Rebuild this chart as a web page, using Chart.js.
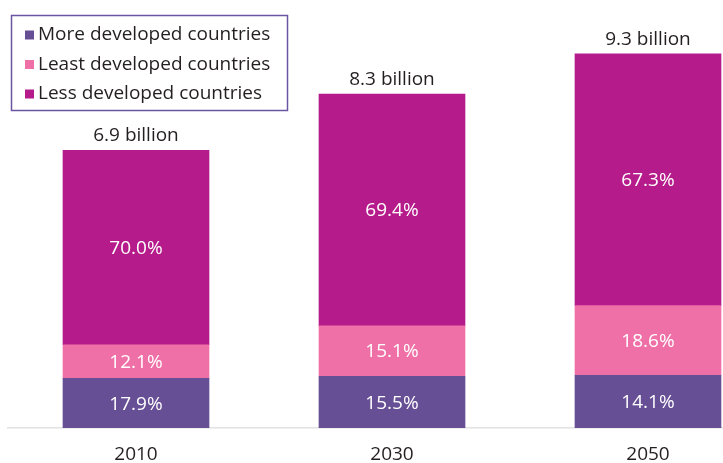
<!DOCTYPE html>
<html>
<head>
<meta charset="utf-8">
<script src="https://cdn.jsdelivr.net/npm/chart.js@4.4.1/dist/chart.umd.min.js"></script>
<style>
    html, body { margin: 0; padding: 0; background: #fff; }
    #wrap { width: 723px; height: 463px; position: relative; }
</style>
</head>
<body>
<div id="wrap"><canvas id="popChart"></canvas></div>
<script>
// Chart data
const years = [2010, 2030, 2050];
const totals = [6.9, 8.3, 9.3]; // billion
const seriesNames = ['More developed countries', 'Least developed countries', 'Less developed countries'];
const moreDeveloped = [17.9, 15.5, 14.1];
const leastDeveloped = [12.1, 15.1, 18.6];
const lessDeveloped = [70.0, 69.4, 67.3];
const colors = ['#674f96', '#ef70a6', '#b51b8a'];

const FONT = '"Open Sans", "Noto Sans", sans-serif';

// share (%) of the year's total -> billions, so bar heights follow the totals
function toPoints(shares) {
    return years.map((y, i) => ({ x: y, y: totals[i] * shares[i] / 100, pct: shares[i] }));
}

// Draw percentages inside segments and totals above bars
const labelPlugin = {
    id: 'segmentLabels',
    afterDatasetsDraw(chart) {
        const ctx = chart.ctx;
        ctx.save();
        ctx.font = '19px ' + FONT;
        ctx.textAlign = 'center';
        ctx.textBaseline = 'middle';
        ctx.fillStyle = '#ffffff';
        chart.data.datasets.forEach((ds, di) => {
            const meta = chart.getDatasetMeta(di);
            meta.data.forEach((bar, i) => {
                const mid = (bar.y + bar.base) / 2;
                ctx.fillText(ds.data[i].pct.toFixed(1) + '%', bar.x, mid + 1);
            });
        });
        // totals
        const topMeta = chart.getDatasetMeta(chart.data.datasets.length - 1);
        ctx.fillStyle = '#231f20';
        ctx.textBaseline = 'bottom';
        topMeta.data.forEach((bar, i) => {
            ctx.fillText(totals[i].toFixed(1) + ' billion', bar.x, bar.y - 5);
        });
        ctx.restore();
    }
};

// Boxed legend in the top-left corner
const legendBoxPlugin = {
    id: 'legendBox',
    afterDraw(chart) {
        const ctx = chart.ctx;
        ctx.save();
        ctx.strokeStyle = '#6a56a0';
        ctx.lineWidth = 1.5;
        ctx.strokeRect(11.5, 15.5, 276, 95);
        ctx.font = '19px ' + FONT;
        ctx.textAlign = 'left';
        ctx.textBaseline = 'middle';
        chart.data.datasets.forEach((ds, i) => {
            const cy = 35 + i * 29.5;
            ctx.fillStyle = ds.backgroundColor;
            ctx.fillRect(25, cy - 4.5, 9, 9);
            ctx.fillStyle = '#231f20';
            ctx.fillText(ds.label, 38, cy);
        });
        ctx.restore();
    }
};

const chartCtx = document.getElementById('popChart').getContext('2d');
const popChart = new Chart(chartCtx, {
    type: 'bar',
    data: {
        datasets: [
            { label: seriesNames[0], data: toPoints(moreDeveloped), backgroundColor: colors[0] },
            { label: seriesNames[1], data: toPoints(leastDeveloped), backgroundColor: colors[1] },
            { label: seriesNames[2], data: toPoints(lessDeveloped), backgroundColor: colors[2] }
        ]
    },
    options: {
        responsive: true,
        maintainAspectRatio: false,
        animation: false,
        barThickness: 146,
        layout: { padding: { left: 8, right: 0, top: 0, bottom: 0 } },
        plugins: {
            legend: { display: false },
            tooltip: { enabled: false }
        },
        scales: {
            x: {
                type: 'linear',
                stacked: true,
                offset: false,
                min: 2000,
                max: 2055.86,
                grid: { display: false },
                border: { display: true, color: '#e2e2e2', width: 1.5 },
                afterBuildTicks: (scale) => {
                    scale.ticks = years.map(v => ({ value: v }));
                },
                afterFit: (scale) => {
                    scale.height = 35;
                },
                ticks: {
                    padding: 7,
                    color: '#231f20',
                    font: { family: FONT, size: 19 },
                    callback: (v) => String(v)
                }
            },
            y: {
                display: false,
                stacked: true,
                min: 0,
                max: 10.64
            }
        }
    },
    plugins: [labelPlugin, legendBoxPlugin]
});
</script>
</body>
</html>
